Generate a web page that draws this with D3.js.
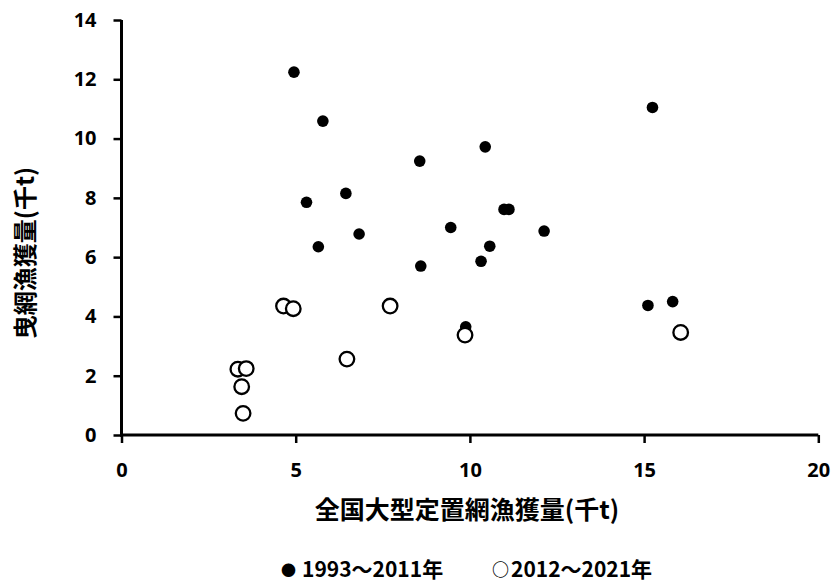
<!DOCTYPE html>
<html>
<head>
<meta charset="utf-8">
<title>Scatter</title>
<script src="https://cdn.jsdelivr.net/npm/d3@7"></script>
<style>
  body { margin: 0; background: #fff; }
  svg { display: block; }
  .tick text { font-family: "Open Sans", "Noto Sans CJK JP", sans-serif; font-weight: bold; font-size: 20px; fill: #000; }
</style>
</head>
<body>
<div id="chart"></div>
<script>
// 1993-2011 (filled)
var xOld = [4.95, 5.78, 15.24, 8.56, 10.44, 6.44, 5.31, 5.65, 6.82, 9.45, 10.98, 11.12, 12.13, 8.59, 10.32, 10.57, 15.11, 15.82, 9.88];
var yOld = [12.24, 10.59, 11.05, 9.24, 9.72, 8.15, 7.85, 6.35, 6.78, 7.0, 7.61, 7.61, 6.88, 5.70, 5.86, 6.37, 4.37, 4.5, 3.65];
// 2012-2021 (open)
var xNew = [4.65, 4.93, 7.71, 6.47, 3.34, 3.58, 3.45, 3.49, 9.86, 16.05];
var yNew = [4.35, 4.26, 4.35, 2.56, 2.22, 2.24, 1.63, 0.73, 3.37, 3.46];

var xTicks = [0, 5, 10, 15, 20];
var yTicks = [0, 2, 4, 6, 8, 10, 12, 14];
var xTitle = "全国大型定置網漁獲量(千t)";
var yTitle = "曳網漁獲量(千t)";
var legendNames = ["1993～2011年", "2012～2021年"];
var legendSymbols = ["●", "○"];

var width = 831, height = 583;
var mLeft = 121.5, mRight = 818.3, mTop = 20, mBottom = 435;

var svg = d3.select("#chart").append("svg")
  .attr("width", width)
  .attr("height", height);

var x = d3.scaleLinear().domain([0, 20]).range([mLeft, mRight]);
var y = d3.scaleLinear().domain([0, 14]).range([mBottom, mTop]);

var xAxis = svg.append("g")
  .attr("transform", "translate(0," + mBottom + ")")
  .call(d3.axisBottom(x).tickValues(xTicks).tickSize(8).tickPadding(20));
var yAxis = svg.append("g")
  .attr("transform", "translate(" + mLeft + ",0)")
  .call(d3.axisLeft(y).tickValues(yTicks).tickSize(8).tickPadding(17));

[xAxis, yAxis].forEach(function(g){
  g.select(".domain").attr("stroke", "#000").attr("stroke-width", 3);
  g.selectAll(".tick line").attr("stroke", "#000").attr("stroke-width", 2.5);
});
// plain lines, no end caps
xAxis.select(".domain").attr("d", "M" + (mLeft - 1.5) + ",0H" + mRight);
yAxis.select(".domain").attr("d", "M0," + (mBottom + 1.5) + "V" + mTop);

var oldPts = xOld.map(function(v, i){ return [v, yOld[i]]; });
var newPts = xNew.map(function(v, i){ return [v, yNew[i]]; });

svg.append("g").selectAll("circle")
  .data(oldPts)
  .enter().append("circle")
    .attr("cx", function(d){ return x(d[0]); })
    .attr("cy", function(d){ return y(d[1]); })
    .attr("r", 5.8)
    .attr("fill", "#000");

svg.append("g").selectAll("circle")
  .data(newPts)
  .enter().append("circle")
    .attr("cx", function(d){ return x(d[0]); })
    .attr("cy", function(d){ return y(d[1]); })
    .attr("r", 7.3)
    .attr("fill", "#fff")
    .attr("stroke", "#000")
    .attr("stroke-width", 2.3);

// axis titles
svg.append("text")
  .attr("x", 467)
  .attr("y", 519)
  .attr("text-anchor", "middle")
  .style("font-family", "'Noto Sans CJK JP', sans-serif")
  .style("font-weight", "bold")
  .style("font-size", "25px")
  .text(xTitle);

svg.append("text")
  .attr("transform", "translate(34,253) rotate(-90)")
  .attr("text-anchor", "middle")
  .style("font-family", "'Noto Sans CJK JP', sans-serif")
  .style("font-weight", "bold")
  .style("font-size", "24px")
  .text(yTitle);

// legend (text symbols, like the original)
var legendX = [281, 492];
var legendGap = [6, 2];
legendNames.forEach(function(name, i){
  var t = svg.append("text")
    .attr("x", legendX[i])
    .attr("y", 577)
    .style("font-family", "'Noto Sans CJK JP', sans-serif")
    .style("font-weight", "bold")
    .style("font-size", "21px");
  t.append("tspan").style("font-size", i === 0 ? "15px" : "17px").attr("dy", -1).text(legendSymbols[i]);
  t.append("tspan").attr("dx", legendGap[i]).attr("dy", 1).text(name);
});
</script>
</body>
</html>
